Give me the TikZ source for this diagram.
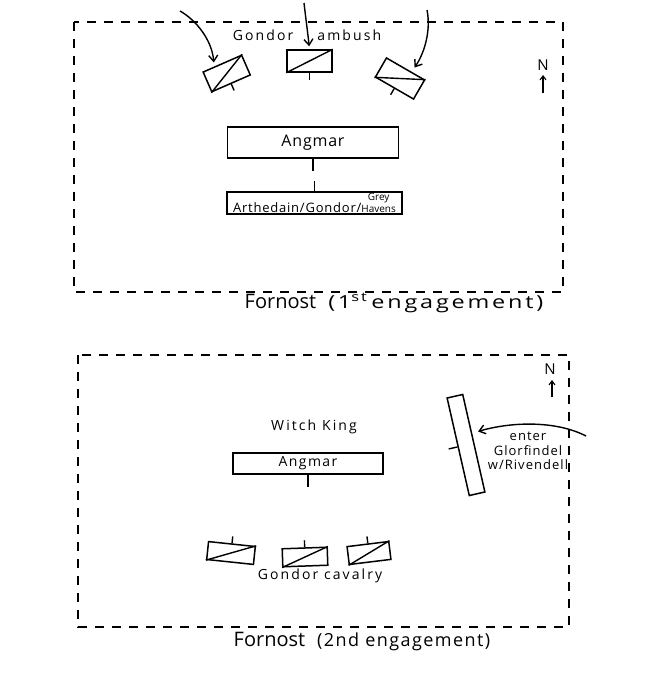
\documentclass[tikz,border=0pt]{standalone}
\usepackage{fontspec}
\setmainfont{Open Sans}
\usetikzlibrary{arrows.meta,calc}
\tikzset{
  frame/.style={line width=1.5pt, dash pattern=on 9pt off 8pt},
  unitbox/.style={draw, line width=1.5pt, inner sep=0pt},
  bigbox/.style={draw, line width=1.5pt, inner sep=0pt},
  pen/.style={line width=1.4pt},
  arr/.style={line width=1.4pt, -{Straight Barb[length=6pt,width=9pt,line width=1.4pt]}},
  narr/.style={line width=1.1pt, -{Straight Barb[length=4pt,width=6pt,line width=1.1pt]}},
  lbl/.style={inner sep=0pt},
}
\newcommand\troop[5]{%
  \node[unitbox, rotate=#3, minimum width=#4pt, minimum height=#5pt] (#1) at (#2) {};
  \draw[pen] (#1.south west) -- (#1.north east);
}
\newcommand\tick[2]{\draw[pen] (#1.#2) -- ($(#1.#2)!-7pt!(#1.center)$);}
\begin{document}
\begin{tikzpicture}[x=1pt,y=-1pt]
\fill[white] (0,0) rectangle (664,681);
\useasboundingbox (0,0) rectangle (664,681);

% ---------- first engagement ----------
\draw[frame] (74,22) rectangle (563,292);

\troop{u1}{226.7,73.5}{23.6}{42}{21.5}
\troop{u2}{309.5,61}{0}{45}{22}
\troop{u3}{400,78.5}{-30}{44}{22}
\tick{u1}{south}
\tick{u2}{south}
\tick{u3}{south}

\coordinate (a1) at (180,11);
\coordinate (a2) at (304,3);
\coordinate (a3) at (427,10);
\draw[arr, shorten >=4pt] (a1) .. controls (196,20) and (212,40) .. ($(u1.north west)!0.3!(u1.north east)$);
\draw[arr, shorten >=3pt] (a2) .. controls (306,20) and (308,35) .. (u2.north);
\draw[arr, shorten >=5pt] (a3) .. controls (431,30) and (425,52) .. ($(u3.north west)!0.65!(u3.north east)$);

\node[lbl, font=\fontsize{14}{16}\selectfont\addfontfeature{LetterSpace=15}] (ambush) at (307,35) {Gondor\hspace{24pt}ambush};

\node[bigbox, minimum width=171pt, minimum height=31pt, font=\fontsize{16}{18}\selectfont\addfontfeature{LetterSpace=5}] (ang1) at (313,142.5) {Angmar};
\node[bigbox, minimum width=175pt, minimum height=22pt, font=\fontsize{13}{14}\selectfont\addfontfeature{LetterSpace=6}] (arth) at (314.5,203)
  {Arthedain/Gondor/{\fontsize{10}{9.5}\selectfont\addfontfeature{LetterSpace=0}\shortstack{Grey\\Havens}}};
\draw[pen] (ang1.south) -- ++(0,12);
\draw[pen] (arth.north) -- ++(0,-10);

\node[lbl, font=\fontsize{15}{16}\selectfont] (n1) at (543,65) {N};
\coordinate (n1a) at (543,93);
\coordinate (n1b) at (543,75);
\draw[narr] (n1a) -- (n1b);

\node[lbl, font=\fontsize{20}{24}\selectfont] (t1) at (394,303)
  {Fornost\hspace{12pt}\scalebox{1.3}[1]{\fontsize{18}{20}\selectfont\addfontfeature{LetterSpace=12}(1\textsuperscript{st}\hspace{3pt}engagement)}};

% ---------- second engagement ----------
\draw[frame] (78,355) rectangle (569,627);

\node[lbl, font=\fontsize{14}{16}\selectfont\addfontfeature{LetterSpace=15}] (wk) at (314,427) {Witch King};
\node[bigbox, minimum width=150pt, minimum height=21pt, font=\fontsize{14}{16}\selectfont\addfontfeature{LetterSpace=10}] (ang2) at (308,463.5) {Angmar};
\draw[pen] (ang2.south) -- ++(0,12);

\troop{c1}{231,553}{-6}{47}{18}
\troop{c2}{305,557}{2}{45}{18}
\troop{c3}{369,553}{7}{42}{18}
\tick{c1}{north}
\tick{c2}{north}
\tick{c3}{north}
\node[lbl, font=\fontsize{14}{16}\selectfont\addfontfeature{LetterSpace=15}] (cav) at (320,576) {Gondor cavalry};

\node[unitbox, rotate=12.8, minimum width=16pt, minimum height=100pt] (glor) at (466,445) {};
\draw[pen] (glor.west) -- ($(glor.west)!-9pt!(glor.center)$);
\coordinate (gs) at (586,436);
\draw[arr, shorten >=6pt] (gs) .. controls (555,420) and (510,422) .. ($(glor.north east)!0.4!(glor.south east)$);
\node[lbl, align=center, font=\fontsize{13}{14.5}\selectfont\addfontfeature{LetterSpace=8}] (glt) at (528,451) {enter\\Glorfindel\\w/Rivendell};

\node[lbl, font=\fontsize{15}{16}\selectfont] (n2) at (550,369) {N};
\coordinate (n2a) at (552,397);
\coordinate (n2b) at (552,380);
\draw[narr] (n2a) -- (n2b);

\node[lbl, font=\fontsize{20}{24}\selectfont] (t2) at (362,642)
  {Fornost\hspace{12pt}{\fontsize{18}{20}\selectfont\addfontfeature{LetterSpace=8}(2nd engagement)}};
\end{tikzpicture}
\end{document}
